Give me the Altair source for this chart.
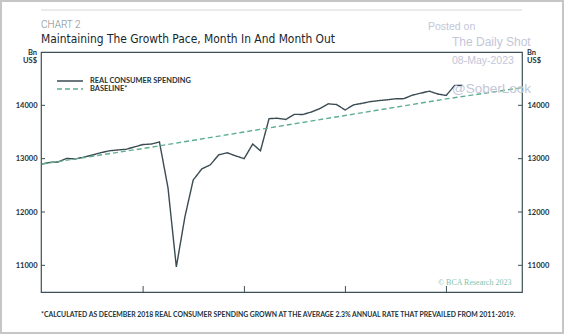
import altair as alt
import pandas as pd

# ---------------- data ----------------
month_starts = pd.date_range("2018-12-01", periods=51, freq="MS")
months = month_starts + pd.offsets.MonthEnd(0)  # month-end dates, Dec 2018 .. Feb 2023

spending = [12900, 12931, 12938, 13006, 12994, 13028, 13066, 13110, 13147, 13163,
            13175, 13219, 13265, 13275, 13313, 12450, 10970, 11910, 12600, 12808,
            12885, 13072, 13110, 13053, 13000, 13275, 13147, 13750, 13758, 13735,
            13831, 13828, 13875, 13938, 14028, 14015, 13913, 14010, 14035, 14069,
            14088, 14103, 14122, 14125, 14191, 14228, 14266, 14213, 14185, 14375,
            14375]

baseline_dates = ["2018-12-31", "2019-12-31", "2020-12-31", "2021-12-31",
                  "2022-12-31", "2023-09-30"]
baseline_vals = [12900, 13190, 13500, 13810, 14120, 14330]

series_names = ["REAL CONSUMER SPENDING", "BASELINE*"]
y_ticks = [11000, 12000, 13000, 14000]
year_starts = ["2020-01-01", "2021-01-01", "2022-01-01", "2023-01-01"]
label_years = [2019, 2020, 2021, 2022]

# ---------------- styling ----------------
W, H = 481, 240
DARK = "#3a4b52"
GREEN = "#5fae8f"
AXIS = "#3d5058"
TXT = "#22333a"
WM = "#c3c6d8"
FONT = "Lato"

df = pd.concat([
    pd.DataFrame({"date": months, "value": spending, "series": series_names[0]}),
    pd.DataFrame({"date": pd.to_datetime(baseline_dates), "value": baseline_vals,
                  "series": series_names[1]}),
])

xscale = alt.Scale(domain=[alt.DateTime(year=2018, month=12, date=28),
                           alt.DateTime(year=2023, month=10, date=1)])
yscale = alt.Scale(domain=[10500, 15000], nice=False, zero=False)

axis_common = dict(labelFont=FONT, labelFontWeight="bold", labelFontSize=7.5,
                   labelColor=TXT, ticks=False, grid=False, domain=False, title=None)

legend_kw = dict(title=None, orient="none", legendX=15, legendY=25,
                 symbolType="stroke", symbolSize=676, symbolStrokeWidth=1.5,
                 clipHeight=8, rowPadding=0, labelFont=FONT, labelFontWeight="bold",
                 labelFontSize=7.4, labelColor=TXT, labelOffset=6)

lines = alt.Chart(df).mark_line(strokeWidth=1.4).encode(
    x=alt.X("date:T", scale=xscale,
            axis=alt.Axis(values=[alt.DateTime(year=y, month=7, date=1) for y in label_years],
                          format="%Y", labelPadding=6, **axis_common)),
    y=alt.Y("value:Q", scale=yscale,
            axis=alt.Axis(orient="left", values=y_ticks, format="d", labelPadding=4,
                          **axis_common)),
    color=alt.Color("series:N",
                    scale=alt.Scale(domain=series_names, range=[DARK, GREEN]),
                    legend=alt.Legend(**legend_kw)),
    strokeDash=alt.StrokeDash("series:N",
                              scale=alt.Scale(domain=series_names, range=[[1, 0], [5, 3]]),
                              legend=alt.Legend(**legend_kw)),
)

yt = pd.DataFrame({"v": y_ticks})
left_ticks = alt.Chart(yt).mark_rule(color=AXIS, strokeWidth=1).encode(
    y=alt.Y("v:Q", scale=yscale, axis=None), x=alt.value(0), x2=alt.value(4))
right_ticks = alt.Chart(yt).mark_rule(color=AXIS, strokeWidth=1).encode(
    y=alt.Y("v:Q", scale=yscale,
            axis=alt.Axis(orient="right", values=y_ticks, format="d", labelPadding=5,
                          **axis_common)),
    x=alt.value(W - 4), x2=alt.value(W))

xt = pd.DataFrame({"d": pd.to_datetime(year_starts)})
x_ticks = alt.Chart(xt).mark_rule(color=AXIS, strokeWidth=1).encode(
    x=alt.X("d:T", scale=xscale, axis=None), y=alt.value(H - 6), y2=alt.value(H))

one = pd.DataFrame({"a": [0]})


def txt(text, x, y, size, color=TXT, font=FONT, weight="normal", align="left", **kw):
    return alt.Chart(one).mark_text(text=text, fontSize=size, color=color, font=font,
                                    fontWeight=weight, align=align, baseline="alphabetic",
                                    **kw).encode(x=alt.value(x), y=alt.value(y))


texts = [
    txt("CHART 2", 0, -24, 10, color="#7d888d", font="Roboto", weight=300),
    txt("Maintaining The Growth Pace, Month In And Month Out", 0, -9, 11.9,
        color="#18262c", font="DejaVu Sans Condensed, Roboto Condensed, Roboto", weight=500),
    txt("Bn", -4, 3, 7.5, weight="bold", align="right"),
    txt("US$", -4, 11, 7.5, weight="bold", align="right"),
    txt("Bn", W + 5, 3, 7.5, weight="bold"),
    txt("US$", W + 5, 11, 7.5, weight="bold"),
    txt("*CALCULATED AS DECEMBER 2018 REAL CONSUMER SPENDING GROWN AT THE AVERAGE 2.3% "
        "ANNUAL RATE THAT PREVAILED FROM 2011-2019.", 0, 264.5, 6.85, weight="bold"),
    txt("© BCA Research 2023", 397, 233, 8, color="#86c2aa", font="Liberation Serif"),
    txt("Posted on", 387, -22, 10.5, color=WM, font="Liberation Sans"),
    txt("The Daily Shot", 411, -6, 12.0, color=WM, font="Liberation Sans"),
    txt("08-May-2023", 411, 12, 10.5, color=WM, font="Liberation Sans"),
    txt("@SoberLook", 411, 41, 13.5, color=WM, font="Liberation Sans"),
]

top_line = alt.Chart(one).mark_rule(color="#e3e5e6", strokeWidth=1.5).encode(
    x=alt.value(0), x2=alt.value(W), y=alt.value(-42))
frame = alt.Chart(one).mark_rect(fill=None, stroke="#c6c6c6", strokeWidth=2).encode(
    x=alt.value(-40), x2=alt.value(W + 41), y=alt.value(-51), y2=alt.value(H + 41))

chart = alt.layer(
    frame, top_line, lines, left_ticks, right_ticks, x_ticks, *texts
).resolve_axis(y="independent").properties(
    width=W, height=H,
    autosize=alt.AutoSizeParams(type="none"),
    padding={"left": 41, "top": 52, "right": 42, "bottom": 42},
    background="white",
).configure_view(stroke=AXIS, strokeWidth=1.2)

chart.save("out.html", embed_options={"renderer": "svg", "actions": False})
